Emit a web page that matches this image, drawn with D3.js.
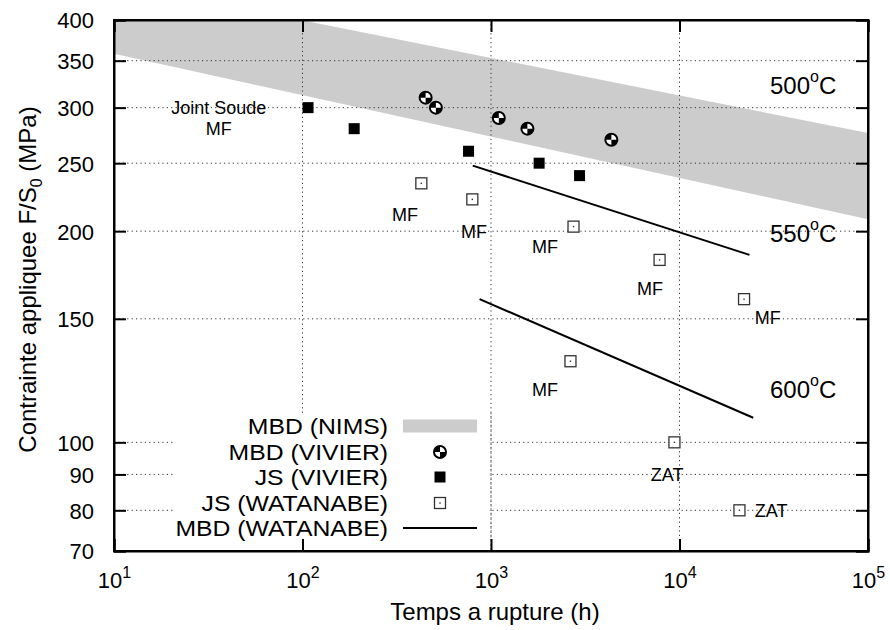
<!DOCTYPE html>
<html>
<head>
<meta charset="utf-8">
<script src="https://cdn.jsdelivr.net/npm/d3@7"></script>
<style>
  html, body { margin: 0; padding: 0; background: #fff; }
  svg { display: block; font-family: "Liberation Sans", Arial, Helvetica, sans-serif; }
</style>
</head>
<body>
<svg id="chart" width="890" height="630"></svg>
<script>
// ---------------- DATA ----------------
const xTicks = [10, 100, 1000, 10000, 100000];
const xTickExp = ["1", "2", "3", "4", "5"];
const yTicks = [70, 80, 90, 100, 150, 200, 250, 300, 350, 400];
const yGrid = [80, 90, 100, 150, 200, 250, 300, 350];
const xGrid = [100, 1000, 10000];

// MBD (NIMS) band
const nimsTime = [10, 100000];
const nimsUpper = [452, 276];
const nimsLower = [358, 208];

// MBD (VIVIER)
const mbdVivierTime = [450, 510, 1100, 1560, 4350];
const mbdVivierStress = [310, 300, 290, 280, 270];

// JS (VIVIER)
const jsVivierTime = [107, 188, 760, 1800, 2950];
const jsVivierStress = [300, 280, 260, 250, 240];

// JS (WATANABE)
const jsWatTime = [427, 796, 2740, 7840, 22000, 2640, 9400, 20800];
const jsWatStress = [234, 222, 203, 182, 160, 130.5, 100, 80];

// MBD (WATANABE) lines
const mbdWat550Time = [800, 23500];
const mbdWat550Stress = [248, 185];
const mbdWat600Time = [870, 24600];
const mbdWat600Stress = [160, 108.4];

// annotations
const noteText = ["Joint Soude", "MF", "MF", "MF", "MF", "MF", "MF", "MF", "ZAT", "ZAT"];
const noteTime = [36, 36, 350, 813, 1936, 6970, 29400, 1936, 8590, 30600];
const noteStress = [300, 280, 211, 200, 190, 165.7, 150.4, 119, 90, 80];

const tempLabel = ["500", "550", "600"];
const tempTime = [30200, 30200, 30200];
const tempStress = [323, 198.7, 119];

const legendLabels = ["MBD (NIMS)", "MBD (VIVIER)", "JS (VIVIER)", "JS (WATANABE)", "MBD (WATANABE)"];

// ---------------- LAYOUT ----------------
const L = 114, R = 868, T = 20, B = 551;
const svg = d3.select("#chart");
const x = d3.scaleLog().domain([10, 100000]).range([L, R]);
const y = d3.scaleLog().domain([70, 400]).range([B, T]);

svg.append("defs").append("clipPath").attr("id", "clip")
  .append("rect").attr("x", L).attr("y", T).attr("width", R - L).attr("height", B - T);

const plot = svg.append("g").attr("clip-path", "url(#clip)");

// band
const bandPts = nimsTime.map((t, i) => [x(t), y(nimsUpper[i])])
  .concat(nimsTime.map((t, i) => [x(t), y(nimsLower[i])]).reverse());
plot.append("path")
  .attr("d", d3.line()(bandPts) + "Z")
  .attr("fill", "#cccccc");

// grid
const gridStyle = sel => sel.attr("stroke", "#333").attr("stroke-width", 1).attr("stroke-dasharray", "1.2,3.2");
plot.append("g").selectAll("line").data(yGrid).join("line")
  .attr("x1", L).attr("x2", R).attr("y1", d => y(d)).attr("y2", d => y(d)).call(gridStyle);
plot.append("g").selectAll("line").data(xGrid).join("line")
  .attr("y1", T).attr("y2", B).attr("x1", d => x(d)).attr("x2", d => x(d)).call(gridStyle);

// legend background box (covers grid)
svg.append("rect").attr("x", 175).attr("y", 413).attr("width", 314).attr("height", B - 413)
  .attr("fill", "#fff");
// vertical grid at 10^3 continues through legend
svg.append("line").attr("x1", x(1000)).attr("x2", x(1000)).attr("y1", 413).attr("y2", B).call(gridStyle);

// MBD WATANABE lines
const lineGen = d3.line().x(d => x(d[0])).y(d => y(d[1]));
[[mbdWat550Time, mbdWat550Stress], [mbdWat600Time, mbdWat600Stress]].forEach(([ts, ss]) => {
  plot.append("path").attr("d", lineGen(ts.map((t, i) => [t, ss[i]])))
    .attr("fill", "none").attr("stroke", "#000").attr("stroke-width", 2);
});

// symbols
function quadCircle(g, cx, cy) {
  const r = 6;
  const gg = g.append("g").attr("transform", `translate(${cx},${cy})`);
  gg.append("circle").attr("r", r).attr("fill", "#fff");
  gg.append("path").attr("d", `M0,0 L${-r},0 A${r},${r} 0 0 1 0,${-r} Z`).attr("fill", "#000");
  gg.append("path").attr("d", `M0,0 L${r},0 A${r},${r} 0 0 1 0,${r} Z`).attr("fill", "#000");
  gg.append("circle").attr("r", r).attr("fill", "none").attr("stroke", "#000").attr("stroke-width", 2);
}
function filledSquare(g, cx, cy) {
  g.append("rect").attr("x", cx - 5.5).attr("y", cy - 5.5).attr("width", 11).attr("height", 11).attr("fill", "#000");
}
function openSquare(g, cx, cy) {
  g.append("rect").attr("x", cx - 5.5).attr("y", cy - 5.5).attr("width", 11).attr("height", 11)
    .attr("fill", "#fff").attr("stroke", "#333").attr("stroke-width", 1.3);
  g.append("rect").attr("x", cx - 0.7).attr("y", cy - 0.7).attr("width", 1.4).attr("height", 1.4).attr("fill", "#333");
}

const symG = svg.append("g");
mbdVivierTime.forEach((t, i) => quadCircle(symG, x(t), y(mbdVivierStress[i])));
jsVivierTime.forEach((t, i) => filledSquare(symG, x(t), y(jsVivierStress[i])));
jsWatTime.forEach((t, i) => openSquare(symG, x(t), y(jsWatStress[i])));

// annotations
svg.append("g").selectAll("text").data(noteText).join("text")
  .attr("x", (d, i) => x(noteTime[i])).attr("y", (d, i) => y(noteStress[i]))
  .attr("dy", "0.36em").attr("text-anchor", "middle")
  .attr("font-size", 18).attr("fill", "#000").text(d => d);

const tg = svg.append("g").selectAll("text").data(tempLabel).join("text")
  .attr("x", (d, i) => x(tempTime[i])).attr("y", (d, i) => y(tempStress[i]))
  .attr("dy", "0.36em").attr("font-size", 24).attr("fill", "#000");
tg.append("tspan").text(d => d);
tg.append("tspan").attr("font-size", 16).attr("dy", "-0.75em").text("o");
tg.append("tspan").attr("dy", "0.5em").text("C");

// legend
const legRowY = [426, 452, 477, 503, 528];
const legTextX = 388, legSymX = 440;
legendLabels.forEach((lab, i) => {
  svg.append("text")
    .attr("transform", `translate(${legTextX},${legRowY[i]}) scale(1.1,1)`)
    .attr("dy", "0.36em")
    .attr("text-anchor", "end").attr("font-size", 22.5).attr("fill", "#000").text(lab);
});
svg.append("rect").attr("x", 403).attr("y", legRowY[0] - 6.5).attr("width", 74).attr("height", 13).attr("fill", "#cccccc");
quadCircle(svg, legSymX, legRowY[1]);
filledSquare(svg, legSymX, legRowY[2]);
openSquare(svg, legSymX, legRowY[3]);
svg.append("line").attr("x1", 403).attr("x2", 477).attr("y1", legRowY[4]).attr("y2", legRowY[4])
  .attr("stroke", "#000").attr("stroke-width", 2);

// axes
const axFont = 22;
const yAxisL = svg.append("g").attr("transform", `translate(${L},0)`)
  .call(d3.axisLeft(y).tickValues(yTicks).tickSize(-12).tickPadding(20).tickFormat(d3.format("d")));
const yAxisR = svg.append("g").attr("transform", `translate(${R},0)`)
  .call(d3.axisRight(y).tickValues(yTicks).tickSize(-12).tickFormat(() => ""));
const xAxisB = svg.append("g").attr("transform", `translate(0,${B})`)
  .call(d3.axisBottom(x).tickValues(xTicks).tickSize(-12).tickPadding(14).tickFormat(() => ""));
const xAxisT = svg.append("g").attr("transform", `translate(0,${T})`)
  .call(d3.axisTop(x).tickValues(xTicks).tickSize(-12).tickFormat(() => ""));

[yAxisL, yAxisR, xAxisB, xAxisT].forEach(a => {
  a.selectAll(".domain").attr("stroke", "#000").attr("stroke-width", 2);
  a.selectAll(".tick line").attr("stroke", "#000").attr("stroke-width", 2);
  a.selectAll("text").attr("font-size", axFont).attr("fill", "#000")
    .attr("font-family", "'Liberation Sans', Arial, sans-serif");
});
yAxisL.selectAll("text").attr("dy", "0.36em");

xAxisB.selectAll(".tick text").each(function(d, i) {
  const t = d3.select(this);
  t.text(null).attr("dy", null).attr("y", 37).attr("text-anchor", "middle");
  t.append("tspan").text("10");
  t.append("tspan").attr("font-size", 16).attr("dy", -10).text(xTickExp[i]);
});
// frame
svg.append("rect").attr("x", L).attr("y", T).attr("width", R - L).attr("height", B - T)
  .attr("fill", "none").attr("stroke", "#000").attr("stroke-width", 2);

// axis titles
svg.append("text").attr("x", (L + R) / 2 + 4).attr("y", 620).attr("text-anchor", "middle")
  .attr("font-size", 24).attr("fill", "#000").text("Temps a rupture (h)");
const yl = svg.append("text").attr("transform", `translate(36,${(T + B) / 2 - 6}) rotate(-90)`)
  .attr("text-anchor", "middle").attr("font-size", 24).attr("fill", "#000");
yl.append("tspan").text("Contrainte appliquee F/S");
yl.append("tspan").attr("font-size", 16).attr("dy", 6).text("0");
yl.append("tspan").attr("dy", -6).text(" (MPa)");
</script>
</body>
</html>
